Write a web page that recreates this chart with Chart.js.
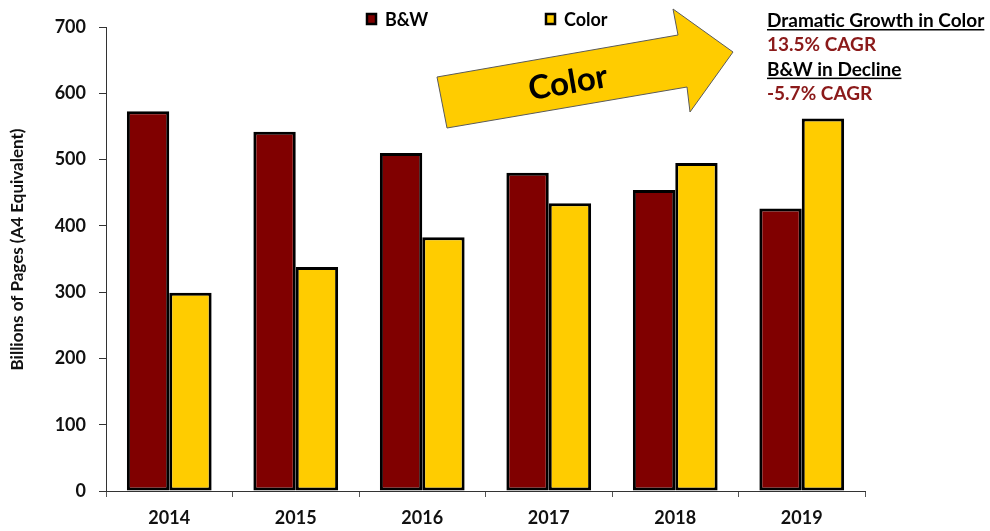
<!DOCTYPE html>
<html>
<head>
<meta charset="utf-8">
<script src="https://cdn.jsdelivr.net/npm/chart.js@4/dist/chart.umd.min.js"></script>
<style>
html,body{margin:0;padding:0;background:#fff}
#contenedor{width:990px;height:531px;position:relative}
</style>
</head>
<body>
<div id="contenedor"><canvas id="grafica_paginas"></canvas></div>
<script>
// datos
const anios = ["2014", "2015", "2016", "2017", "2018", "2019"];
const paginasBN = [573, 542, 510, 480, 454, 426];
const paginasColor = [299, 338, 383, 434, 495, 562];
const seriesNombres = ["B&W", "Color"];
const seriesColores = ["#800000", "#FFCC00"];
const tituloY = "Billions of Pages (A4 Equivalent)";
const notasTexto = ["Dramatic Growth in Color", "13.5% CAGR", "B&W in Decline", "-5.7% CAGR"];
const notasColor = ["#000000", "#8B1A1A", "#000000", "#8B1A1A"];
const notasSubrayado = [true, false, true, false];
const textoFlecha = "Color";

const fuente = "Lato, 'Noto Sans', sans-serif";

// leyenda, flecha, notas y titulo del eje Y
const adornos = {
  id: "adornos",
  afterDraw(chart) {
    const ctx = chart.ctx;
    ctx.save();

    // leyenda
    const posLeyenda = [366, 545];
    chart.data.datasets.forEach((ds, i) => {
      const x = posLeyenda[i];
      ctx.fillStyle = ds.backgroundColor;
      ctx.fillRect(x, 13, 11, 12);
      ctx.lineWidth = 2.5;
      ctx.strokeStyle = "#000";
      ctx.strokeRect(x + 1, 14, 9, 10);
      ctx.fillStyle = "#000";
      ctx.font = "bold 18px " + fuente;
      ctx.textBaseline = "alphabetic";
      ctx.textAlign = "left";
      ctx.fillText(ds.label, x + 19, 26);
    });

    // flecha
    const pts = [[437, 77], [678, 35], [673, 9], [733, 52], [690, 112], [687, 87], [447, 128]];
    ctx.beginPath();
    pts.forEach((p, i) => i ? ctx.lineTo(p[0], p[1]) : ctx.moveTo(p[0], p[1]));
    ctx.closePath();
    ctx.fillStyle = seriesColores[1];
    ctx.fill();
    ctx.lineWidth = 1;
    ctx.strokeStyle = "#5a5a5a";
    ctx.stroke();

    ctx.save();
    ctx.translate(568, 83);
    ctx.rotate(-0.173);
    ctx.font = "bold 33px " + fuente;
    ctx.fillStyle = "#000";
    ctx.textAlign = "center";
    ctx.textBaseline = "middle";
    ctx.fillText(textoFlecha, 0, 0);
    ctx.restore();

    // notas
    ctx.font = "bold 19px " + fuente;
    ctx.textAlign = "left";
    ctx.textBaseline = "alphabetic";
    notasTexto.forEach((t, i) => {
      const y = 27 + i * 24.3;
      ctx.fillStyle = notasColor[i];
      ctx.fillText(t, 767, y);
      if (notasSubrayado[i]) {
        const w = ctx.measureText(t).width;
        ctx.fillRect(767, y + 2, w, 1.5);
      }
    });

    // titulo eje Y
    ctx.save();
    ctx.translate(23, 249.5);
    ctx.rotate(-Math.PI / 2);
    ctx.font = "bold 17px " + fuente;
    ctx.fillStyle = "#111";
    ctx.textAlign = "center";
    ctx.textBaseline = "alphabetic";
    ctx.fillText(tituloY, 0, 0);
    ctx.restore();

    ctx.restore();
  }
};

new Chart("grafica_paginas", {
  type: "bar",
  data: {
    labels: anios,
    datasets: [{
      label: seriesNombres[0],
      data: paginasBN,
      backgroundColor: seriesColores[0],
      borderColor: "#000",
      borderWidth: 3,
      borderSkipped: false
    }, {
      label: seriesNombres[1],
      data: paginasColor,
      backgroundColor: seriesColores[1],
      borderColor: "#000",
      borderWidth: 3,
      borderSkipped: false
    }]
  },
  options: {
    responsive: true,
    maintainAspectRatio: false,
    animation: false,
    layout: {
      padding: { top: 27, right: 125, left: 0, bottom: 0 }
    },
    plugins: {
      legend: { display: false },
      tooltip: { enabled: false }
    },
    datasets: {
      bar: { categoryPercentage: 0.67, barPercentage: 1.0 }
    },
    scales: {
      x: {
        afterFit: s => { s.height = 40; },
        grid: { drawOnChartArea: false, drawTicks: true, tickLength: 6, color: "#555", offset: true },
        border: { display: true, color: "#333", width: 1 },
        ticks: {
          color: "#111",
          padding: 10,
          font: { family: fuente, size: 18, weight: "bold" }
        }
      },
      y: {
        min: 0,
        max: 700,
        afterFit: s => { s.width = 106; },
        grid: { drawOnChartArea: false, drawTicks: true, tickLength: 7, color: "#333" },
        border: { display: true, color: "#333", width: 1 },
        ticks: {
          stepSize: 100,
          color: "#111",
          padding: 13,
          font: { family: fuente, size: 18, weight: "bold" }
        }
      }
    }
  },
  plugins: [adornos]
});
</script>
</body>
</html>
